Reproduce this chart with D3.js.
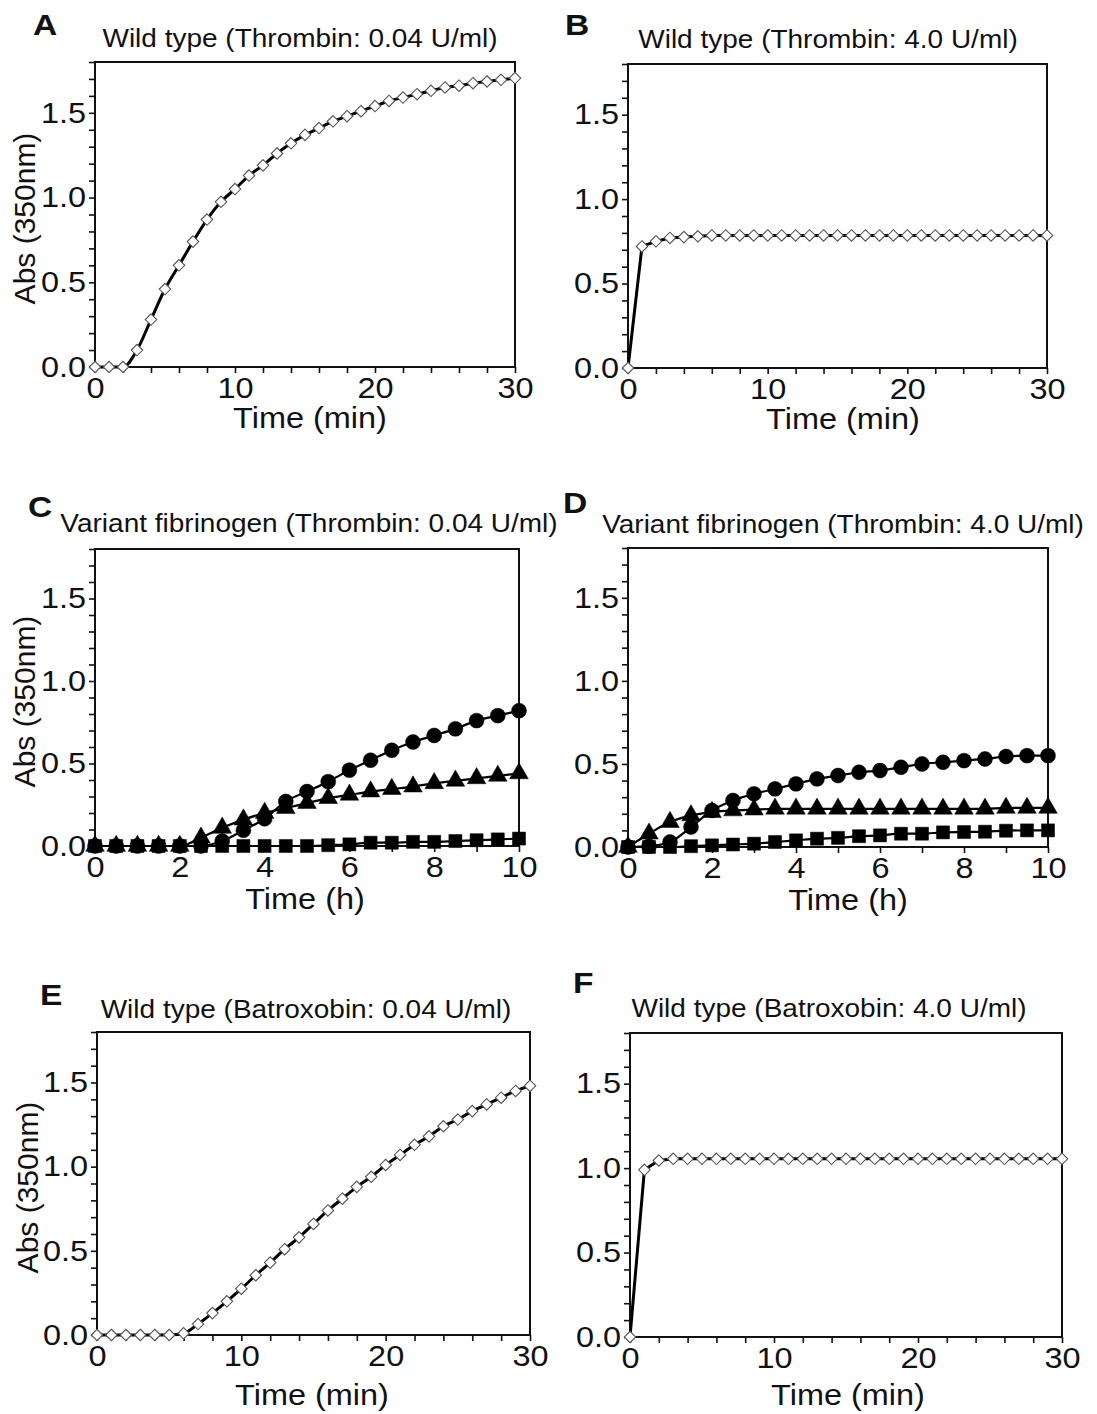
<!DOCTYPE html>
<html>
<head>
<meta charset="utf-8">
<script src="https://cdn.jsdelivr.net/npm/d3@7"></script>
<style>
body{margin:0;background:#fff;}
svg text{font-family:"Liberation Sans",Arial,sans-serif;fill:#111;}
</style>
</head>
<body>
<div id="chart"></div>
<script>
// time points
const minutes = [0,1,2,3,4,5,6,7,8,9,10,11,12,13,14,15,16,17,18,19,20,21,22,23,24,25,26,27,28,29,30];
const hours = [0,0.5,1,1.5,2,2.5,3,3.5,4,4.5,5,5.5,6,6.5,7,7.5,8,8.5,9,9.5,10];

// A: wild type, thrombin 0.04 U/ml
const wtThrombinLow = [0,0,0,0.10,0.28,0.46,0.60,0.74,0.87,0.975,1.05,1.13,1.19,1.26,1.32,1.37,1.41,1.45,1.48,1.51,1.54,1.57,1.59,1.61,1.63,1.65,1.66,1.675,1.685,1.695,1.705];
// B: wild type, thrombin 4.0 U/ml
const wtThrombinHigh = [0,0.72,0.75,0.77,0.775,0.78,0.785,0.785,0.785,0.785,0.785,0.785,0.785,0.785,0.785,0.785,0.785,0.785,0.785,0.785,0.785,0.785,0.785,0.785,0.785,0.785,0.785,0.785,0.785,0.785,0.785];
// C: variant, thrombin 0.04 U/ml
const varLowCircle = [0,0,0,0,0,0,0.03,0.095,0.165,0.27,0.33,0.39,0.46,0.52,0.58,0.63,0.67,0.71,0.76,0.79,0.82];
const varLowTriangle = [0,0,0,0,0,0.05,0.11,0.16,0.20,0.23,0.26,0.29,0.31,0.33,0.345,0.36,0.38,0.395,0.41,0.425,0.44];
const varLowSquare = [0,0,0,0,0,0,0,0,0,0,0,0.005,0.01,0.02,0.02,0.025,0.025,0.03,0.035,0.04,0.045];
// D: variant, thrombin 4.0 U/ml
const varHighCircle = [0,0.005,0.03,0.12,0.22,0.28,0.32,0.35,0.38,0.41,0.43,0.45,0.46,0.48,0.50,0.51,0.52,0.53,0.545,0.55,0.55];
const varHighTriangle = [0,0.08,0.15,0.19,0.21,0.22,0.225,0.23,0.23,0.23,0.23,0.23,0.23,0.23,0.23,0.23,0.23,0.23,0.235,0.235,0.235];
const varHighSquare = [0,0,0,0.005,0.01,0.015,0.02,0.03,0.04,0.05,0.055,0.065,0.07,0.08,0.08,0.088,0.09,0.092,0.098,0.10,0.10];
// E: wild type, batroxobin 0.04 U/ml
const wtBatroxLow = [0,0,0,0,0,0,0.01,0.065,0.13,0.20,0.275,0.355,0.43,0.51,0.58,0.66,0.74,0.81,0.88,0.94,1.01,1.07,1.13,1.18,1.24,1.28,1.33,1.37,1.41,1.45,1.48];
// F: wild type, batroxobin 4.0 U/ml
const wtBatroxHigh = [0,0.99,1.045,1.055,1.055,1.055,1.055,1.055,1.055,1.055,1.055,1.055,1.055,1.055,1.055,1.055,1.055,1.055,1.055,1.055,1.055,1.055,1.055,1.055,1.055,1.055,1.055,1.055,1.055,1.055,1.055];

const panelLetters = ["A","B","C","D","E","F"];
const panelTitles = [
    "Wild type (Thrombin: 0.04 U/ml)",
    "Wild type (Thrombin: 4.0 U/ml)",
    "Variant fibrinogen (Thrombin: 0.04 U/ml)",
    "Variant fibrinogen (Thrombin: 4.0 U/ml)",
    "Wild type (Batroxobin: 0.04 U/ml)",
    "Wild type (Batroxobin: 4.0 U/ml)"
];
const xLabels = ["Time (min)","Time (min)","Time (h)","Time (h)","Time (min)","Time (min)"];
const yLabel = "Abs (350nm)";
const yMajorTicks = [0,0.5,1.0,1.5];

var WIDTH = 1097, HEIGHT = 1414;
var Y_MAX = 1.8;
var SX = 1.12; // the figure text is a bit wide

// layout of each panel (pixels)
var layouts = [
    {x0:95, x1:515, top:62, bot:367, tx:300, ty:47, lx:33, ly:35, xlx:310, xly:428, ylx:35, yl:true},
    {x0:628, x1:1047, top:64, bot:368, tx:828, ty:48, lx:565, ly:35, xlx:843, xly:429, yl:false},
    {x0:95, x1:519, top:549, bot:846, tx:309, ty:532, lx:28, ly:517, xlx:305, xly:909, ylx:35, yl:true},
    {x0:628, x1:1048, top:548, bot:847, tx:843, ty:533, lx:563, ly:513, xlx:848, xly:910, yl:false},
    {x0:97, x1:530, top:1032, bot:1335, tx:306, ty:1018, lx:40, ly:1005, xlx:312, xly:1405, ylx:38, yl:true},
    {x0:630, x1:1062, top:1033, bot:1337, tx:829, ty:1017, lx:573, ly:993, xlx:848, xly:1405, yl:false}
];

var symbolOpenDiamond = {
    draw: function(context, size){
        var r = Math.sqrt(size/2);
        context.moveTo(0,-r);
        context.lineTo(r,0);
        context.lineTo(0,r);
        context.lineTo(-r,0);
        context.closePath();
    }
};

function Panel(svg, index, xMax, xStep, xLabelStep){
    this.layout = layouts[index];
    this.index = index;
    this.g = svg.append("g").attr("class","panel");
    this.x = d3.scaleLinear().domain([0,xMax]).range([this.layout.x0,this.layout.x1]);
    this.y = d3.scaleLinear().domain([0,Y_MAX]).range([this.layout.bot,this.layout.top]);
    this.xStep = xStep;
    this.xLabelStep = xLabelStep;
    this.xMax = xMax;
    this.drawAxes();
}

Panel.prototype.drawAxes = function(){
    var L = this.layout, self = this;
    var xTicks = d3.range(0, this.xMax + 0.001, this.xStep);
    var yTicks = d3.range(0, 19).map(function(d){ return d/10; }).filter(function(d){ return d <= Y_MAX + 1e-6; });

    var xAxis = d3.axisBottom(this.x).tickValues(xTicks).tickSize(6).tickPadding(4)
        .tickFormat(function(d){ return (Math.abs(d % self.xLabelStep) < 1e-6) ? d : ""; });
    var yAxis = d3.axisLeft(this.y).tickValues(yTicks).tickSize(6).tickPadding(2)
        .tickFormat(function(d){
            return yMajorTicks.some(function(m){ return Math.abs(m-d) < 1e-6; }) ? d.toFixed(1) : "";
        });

    var gx = this.g.append("g").attr("transform","translate(0,"+L.bot+")").call(xAxis);
    var gy = this.g.append("g").attr("transform","translate("+L.x0+",0)").call(yAxis);
    [gx, gy].forEach(function(ax){
        ax.select(".domain").remove();
        ax.selectAll(".tick line").attr("stroke","#111").attr("stroke-width",1.6);
        ax.selectAll(".tick text").attr("font-size",29).attr("fill","#111")
            .attr("transform","scale("+SX+",1)");
    });

    // frame
    this.g.append("rect")
        .attr("x",L.x0).attr("y",L.top)
        .attr("width",L.x1-L.x0).attr("height",L.bot-L.top)
        .attr("fill","none").attr("stroke","#111").attr("stroke-width",2);

    // title and letter
    this.g.append("text")
        .attr("transform","translate("+L.tx+","+L.ty+") scale("+SX+",1)")
        .attr("text-anchor","middle").attr("font-size",25)
        .text(panelTitles[this.index]);
    this.g.append("text")
        .attr("transform","translate("+L.lx+","+L.ly+") scale("+SX+",1)")
        .attr("font-size",30).attr("font-weight","bold")
        .text(panelLetters[this.index]);

    // axis titles
    this.g.append("text")
        .attr("transform","translate("+L.xlx+","+L.xly+") scale("+SX+",1)")
        .attr("text-anchor","middle").attr("font-size",29)
        .text(xLabels[this.index]);
    if (L.yl){
        this.g.append("text")
            .attr("transform","translate("+L.ylx+","+((L.top+L.bot)/2+4)+") rotate(-90)")
            .attr("text-anchor","middle").attr("font-size",30)
            .text(yLabel);
    }
};

Panel.prototype.addSeries = function(xs, ys, shape, opts){
    var self = this;
    var pts = xs.map(function(d,i){ return [d, ys[i]]; });
    var line = d3.line()
        .x(function(d){ return self.x(d[0]); })
        .y(function(d){ return self.y(d[1]); })
        .curve(opts.curve || d3.curveLinear);

    this.g.append("path").datum(pts)
        .attr("d",line)
        .attr("fill","none").attr("stroke","#000")
        .attr("stroke-width",opts.lineWidth || 3)
        .attr("stroke-linejoin","round");

    var sym = d3.symbol().type(shape).size(opts.size);
    this.g.append("g").selectAll("path")
        .data(pts)
        .join("path")
        .attr("transform",function(d){ return "translate("+self.x(d[0])+","+self.y(d[1])+")"; })
        .attr("d",sym)
        .attr("fill",opts.fill)
        .attr("stroke",opts.stroke)
        .attr("stroke-width",opts.strokeWidth || 1);
};

var svg = d3.select("#chart").append("svg")
    .attr("width",WIDTH).attr("height",HEIGHT);

var openStyle = {size:66, fill:"#fff", stroke:"#555", strokeWidth:1.1, lineWidth:3, curve:d3.curveMonotoneX};
var solidLine = {lineWidth:2.2, curve:d3.curveMonotoneX, fill:"#000", stroke:"#000", strokeWidth:0.5};

var panelA = new Panel(svg, 0, 30, 2, 10);
panelA.addSeries(minutes, wtThrombinLow, symbolOpenDiamond, openStyle);

var panelB = new Panel(svg, 1, 30, 2, 10);
panelB.addSeries(minutes, wtThrombinHigh, symbolOpenDiamond, Object.assign({}, openStyle, {curve:d3.curveLinear}));

var panelC = new Panel(svg, 2, 10, 1, 2);
panelC.addSeries(hours, varLowCircle, d3.symbolCircle, Object.assign({size:175}, solidLine));
panelC.addSeries(hours, varLowTriangle, d3.symbolTriangle, Object.assign({size:150}, solidLine));
panelC.addSeries(hours, varLowSquare, d3.symbolSquare, Object.assign({size:170}, solidLine));

var panelD = new Panel(svg, 3, 10, 1, 2);
panelD.addSeries(hours, varHighCircle, d3.symbolCircle, Object.assign({size:175}, solidLine));
panelD.addSeries(hours, varHighTriangle, d3.symbolTriangle, Object.assign({size:150}, solidLine));
panelD.addSeries(hours, varHighSquare, d3.symbolSquare, Object.assign({size:170}, solidLine));

var panelE = new Panel(svg, 4, 30, 2, 10);
panelE.addSeries(minutes, wtBatroxLow, symbolOpenDiamond, openStyle);

var panelF = new Panel(svg, 5, 30, 2, 10);
panelF.addSeries(minutes, wtBatroxHigh, symbolOpenDiamond, Object.assign({}, openStyle, {curve:d3.curveLinear}));
</script>
</body>
</html>
